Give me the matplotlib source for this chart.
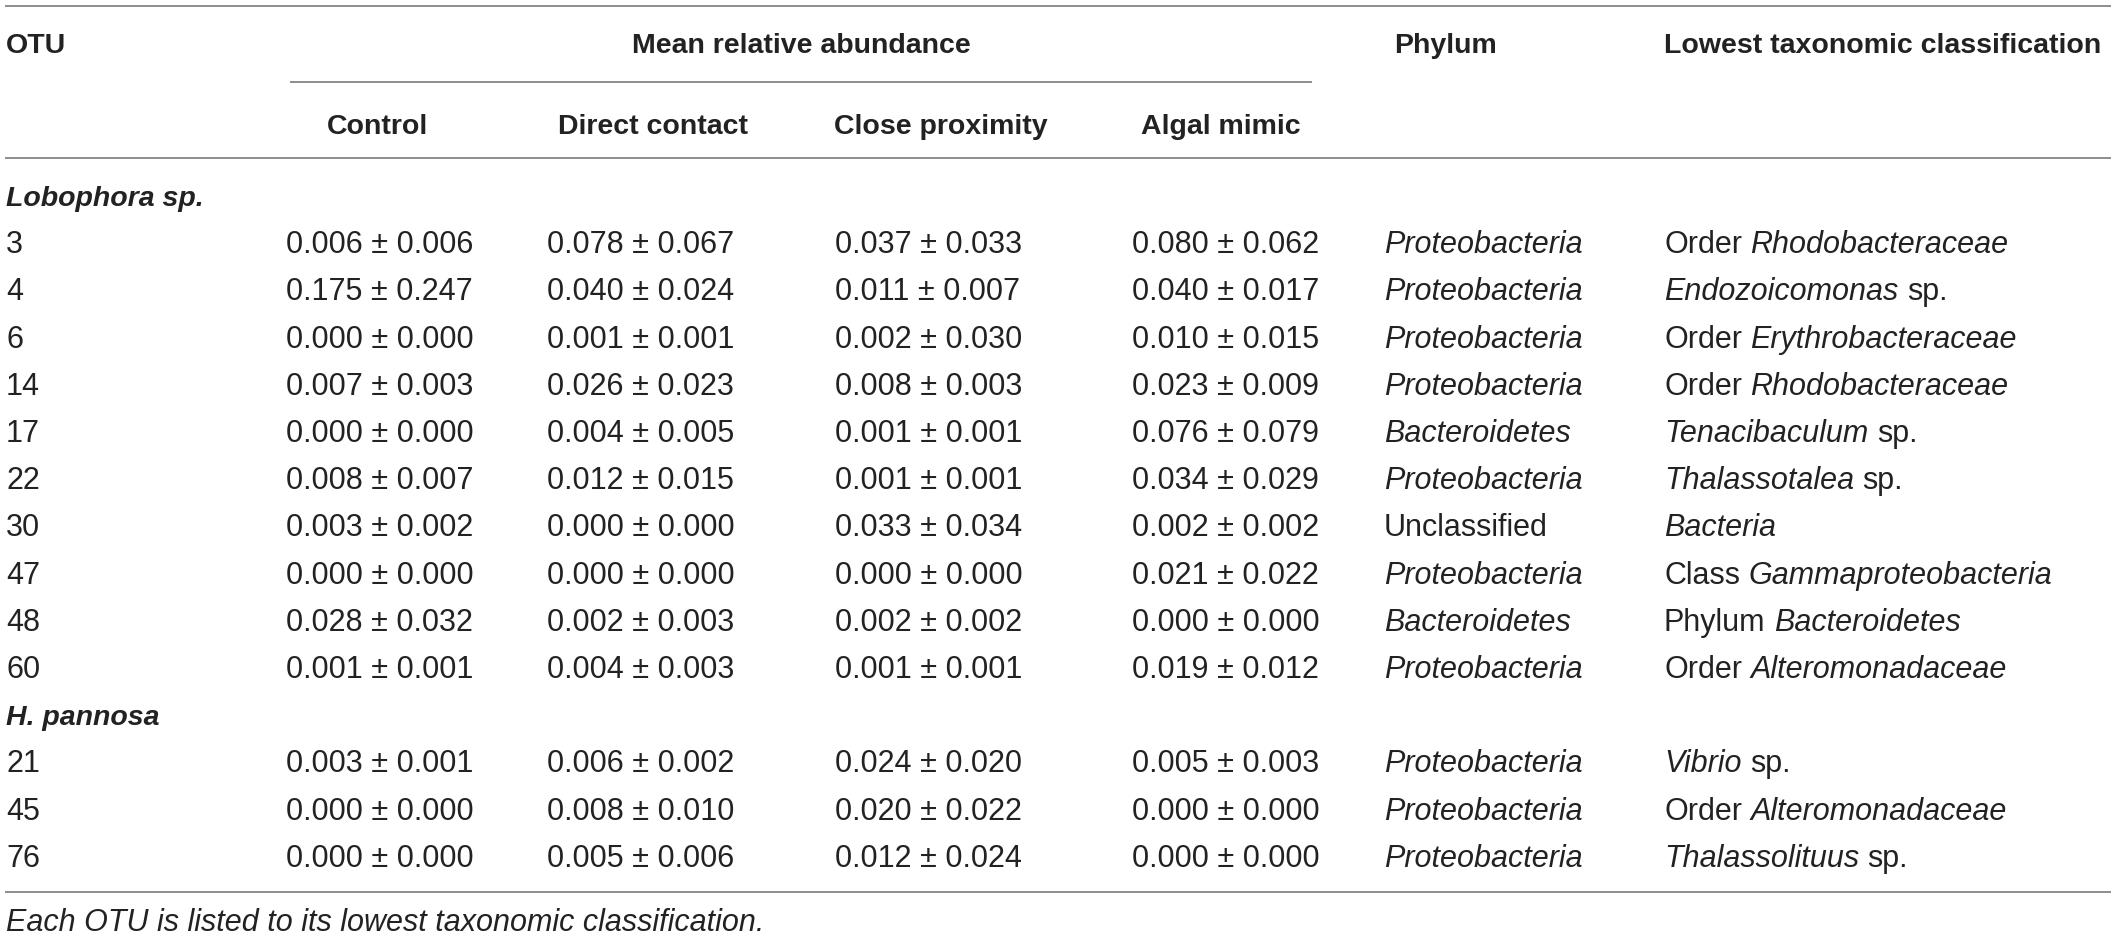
import matplotlib
matplotlib.use('Agg')
import matplotlib.pyplot as plt

plt.rcParams['font.family'] = ['Liberation Sans', 'DejaVu Sans']

# table data
groups = ['Lobophora sp.', 'H. pannosa']
group_sizes = [10, 3]
otu = ['3', '4', '6', '14', '17', '22', '30', '47', '48', '60', '21', '45', '76']
treatments = ['Control', 'Direct contact', 'Close proximity', 'Algal mimic']
control_mean = [0.006, 0.175, 0.000, 0.007, 0.000, 0.008, 0.003, 0.000, 0.028, 0.001, 0.003, 0.000, 0.000]
control_sd = [0.006, 0.247, 0.000, 0.003, 0.000, 0.007, 0.002, 0.000, 0.032, 0.001, 0.001, 0.000, 0.000]
direct_mean = [0.078, 0.040, 0.001, 0.026, 0.004, 0.012, 0.000, 0.000, 0.002, 0.004, 0.006, 0.008, 0.005]
direct_sd = [0.067, 0.024, 0.001, 0.023, 0.005, 0.015, 0.000, 0.000, 0.003, 0.003, 0.002, 0.010, 0.006]
close_mean = [0.037, 0.011, 0.002, 0.008, 0.001, 0.001, 0.033, 0.000, 0.002, 0.001, 0.024, 0.020, 0.012]
close_sd = [0.033, 0.007, 0.030, 0.003, 0.001, 0.001, 0.034, 0.000, 0.002, 0.001, 0.020, 0.022, 0.024]
mimic_mean = [0.080, 0.040, 0.010, 0.023, 0.076, 0.034, 0.002, 0.021, 0.000, 0.019, 0.005, 0.000, 0.000]
mimic_sd = [0.062, 0.017, 0.015, 0.009, 0.079, 0.029, 0.002, 0.022, 0.000, 0.012, 0.003, 0.000, 0.000]
phylum = ['Proteobacteria', 'Proteobacteria', 'Proteobacteria', 'Proteobacteria', 'Bacteroidetes',
          'Proteobacteria', 'Unclassified', 'Proteobacteria', 'Bacteroidetes', 'Proteobacteria',
          'Proteobacteria', 'Proteobacteria', 'Proteobacteria']
# lowest classification: (roman prefix, italic name, roman suffix)
lowest = [('Order', 'Rhodobacteraceae', ''), ('', 'Endozoicomonas', 'sp.'),
          ('Order', 'Erythrobacteraceae', ''), ('Order', 'Rhodobacteraceae', ''),
          ('', 'Tenacibaculum', 'sp.'), ('', 'Thalassotalea', 'sp.'), ('', 'Bacteria', ''),
          ('Class', 'Gammaproteobacteria', ''), ('Phylum', 'Bacteroidetes', ''),
          ('Order', 'Alteromonadaceae', ''), ('', 'Vibrio', 'sp.'),
          ('Order', 'Alteromonadaceae', ''), ('', 'Thalassolituus', 'sp.')]
footnote = 'Each OTU is listed to its lowest taxonomic classification.'

means = [control_mean, direct_mean, close_mean, mimic_mean]
sds = [control_sd, direct_sd, close_sd, mimic_sd]

# layout (pixels)
W, H = 2117, 936
txt = '#222222'
line_c = '#858585'
body_fs = 22
head_fs = 20.5
x_otu = 6
x_val = [286, 547, 835, 1132]
x_head = [378, 653, 941, 1221]
x_phy = 1384
x_low = 1664
y_top, y_mid, y_hdr, y_bot = 6, 82, 158, 892
y0, dy = 206, 47.2   # first body baseline, row pitch
cap = 11

fig = plt.figure(figsize=(W / 100, H / 100), dpi=100)
ax = fig.add_axes([0, 0, 1, 1])
ax.set_xlim(0, W)
ax.set_ylim(H, 0)
ax.axis('off')
r = fig.canvas.get_renderer()

def width(t):
    return t.get_window_extent(renderer=r).width

def put(x, y, s, **kw):
    kw.setdefault('fontsize', body_fs)
    kw.setdefault('color', txt)
    return ax.text(x, y, s, va='baseline', **kw)

# rules
for yy in (y_top, y_hdr, y_bot):
    ax.plot([5, 2111], [yy, yy], color=line_c, lw=1.3, solid_capstyle='butt')
ax.plot([290, 1312], [y_mid, y_mid], color=line_c, lw=1.3, solid_capstyle='butt')

# header
hb = dict(fontsize=head_fs, fontweight='bold')
put(x_otu, 42 + cap, 'OTU', **hb)
put((290 + 1312) / 2, 42 + cap, 'Mean relative abundance', ha='center', **hb)
put(x_phy + 10, 42 + cap, 'Phylum', **hb)
put(x_low, 42 + cap, 'Lowest taxonomic classification', **hb)
for xh, name in zip(x_head, treatments):
    put(xh, 123 + cap, name, ha='center', **hb)

# space width for mixed-style text (measured, then removed)
t1, t2 = put(0, 500, 'a a'), put(0, 500, 'aa')
sp = width(t1) - width(t2)
t1.remove()
t2.remove()

# body
k = 0
i = 0
for g, n in zip(groups, group_sizes):
    put(x_otu, y0 + k * dy, g, fontsize=head_fs, fontweight='bold', style='italic')
    k += 1
    for _ in range(n):
        y = y0 + k * dy
        put(x_otu, y, otu[i])
        for xv, m, s in zip(x_val, means, sds):
            put(xv, y, f'{m[i]:.3f} \u00b1 {s[i]:.3f}')
        put(x_phy, y, phylum[i], style='normal' if phylum[i] == 'Unclassified' else 'italic')
        pre, it, suf = lowest[i]
        x = x_low
        if pre:
            x += width(put(x, y, pre)) + sp
        x += width(put(x, y, it, style='italic'))
        if suf:
            put(x + sp, y, suf)
        k += 1
        i += 1

put(x_otu, 920 + cap, footnote, style='italic')

fig.savefig('out.png', dpi=100)
